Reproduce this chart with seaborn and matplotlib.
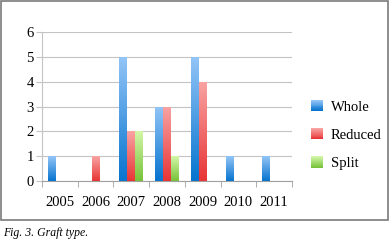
import numpy as np
import pandas as pd
import seaborn as sns
import matplotlib.pyplot as plt
from matplotlib.colors import LinearSegmentedColormap, to_rgb
from matplotlib.patches import Rectangle
from matplotlib.legend_handler import HandlerBase

years = ["2005", "2006", "2007", "2008", "2009", "2010", "2011"]
whole = [1, 0, 5, 3, 5, 1, 1]
reduced = [0, 1, 2, 3, 4, 0, 0]
split = [0, 0, 2, 1, 0, 0, 0]
series = ["Whole", "Reduced", "Split"]

# (bottom colour, top colour) for the gradient fill
grad = {
    "Whole": ("#0774cf", "#93c5f7"),
    "Reduced": ("#e83536", "#f9a3a3"),
    "Split": ("#78c23a", "#d3f7a8"),
}

df = pd.DataFrame({"year": years * 3,
                   "count": whole + reduced + split,
                   "type": sum([[s] * len(years) for s in series], [])})

plt.rcParams["font.family"] = ["Liberation Serif", "DejaVu Serif"]

fig = plt.figure(figsize=(3.9, 2.42), dpi=100)
ax = fig.add_axes([42 / 390, 61 / 242, 250 / 390, 149 / 242])

palette = {s: grad[s][0] for s in series}
sns.barplot(data=df, x="year", y="count", hue="type", palette=palette,
            width=0.67, ax=ax, legend=False, saturation=1)

for cont, s in zip(ax.containers, series):
    cmap = LinearSegmentedColormap.from_list(s, [grad[s][0], grad[s][1]])
    for p in cont.patches:
        h = p.get_height()
        if h <= 0:
            p.set_visible(False)
            continue
        x = p.get_x()
        w = p.get_width()
        im = ax.imshow(np.linspace(0, 1, 100).reshape(-1, 1), cmap=cmap,
                       extent=[x, x + w, 0, h], origin="lower",
                       aspect="auto", zorder=3)
        im.set_clip_path(p)
        p.set_edgecolor("none")

ax.set_xlim(-0.5, 6.5)
ax.set_ylim(0, 6)
ax.set_yticks(range(7))
ax.set_xlabel("")
ax.set_ylabel("")

gc = "#c4c4c4"
ax.grid(axis="y", color=gc, lw=0.8, zorder=0)
ax.set_axisbelow(True)
for sp in ["top", "right"]:
    ax.spines[sp].set_visible(False)
ax.spines["left"].set_color(gc)
ax.spines["bottom"].set_color("#a0a0a0")
ax.tick_params(axis="y", length=4, color=gc, labelsize=10.5, pad=2)
ax.tick_params(axis="x", length=0, labelsize=10.5, pad=11)
ax.set_xticks(np.arange(-0.5, 7, 1), minor=True)
ax.tick_params(axis="x", which="minor", length=4, color="#a0a0a0")


class GradientHandler(HandlerBase):
    # legend swatch drawn as stacked strips, dark at the bottom
    def create_artists(self, legend, orig, xd, yd, w, h, fs, trans):
        lo, hi = np.array(to_rgb(orig.bottom)), np.array(to_rgb(orig.top))
        n = 12
        arts = []
        for i in range(n):
            t = i / (n - 1)
            c = lo * (1 - t) + hi * t
            r = Rectangle((-xd, -yd + h * i / n), w, h / n + 0.05,
                          facecolor=c, edgecolor="none", transform=trans)
            arts.append(r)
        return arts


handles = []
for s in series:
    r = Rectangle((0, 0), 1, 1)
    r.bottom, r.top = grad[s]
    handles.append(r)

leg = fig.legend(handles, series, loc="center left",
                 bbox_to_anchor=(298 / 390, 1 - 135 / 242), frameon=False,
                 fontsize=10.5, handlelength=0.8, handleheight=0.8,
                 labelspacing=1.0, handletextpad=0.55,
                 handler_map={Rectangle: GradientHandler()})

# frame around chart
fig.patches.append(Rectangle((1 / 390, 22 / 242), 387 / 390, 219 / 242,
                             transform=fig.transFigure, fill=False,
                             edgecolor="#7a7a7a", lw=1.2))

fig.text(3 / 390, 1 - 233 / 242, "Fig. 3. Graft type.", style="italic",
         fontsize=8.5, va="center", ha="left")

fig.savefig("out.png", dpi=100)
